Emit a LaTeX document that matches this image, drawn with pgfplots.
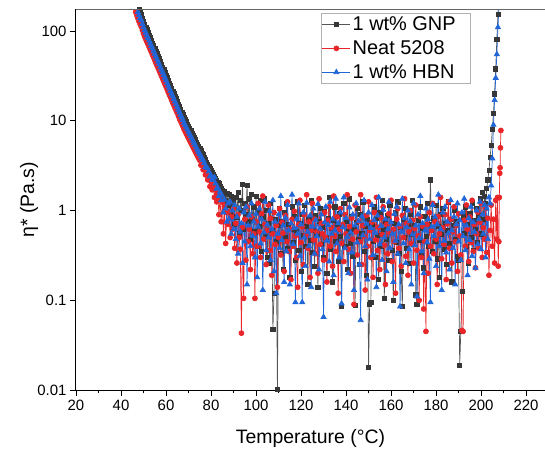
\documentclass[border=0pt]{standalone}
\usepackage{pgfplots}
\pgfplotsset{compat=1.18}
\usepackage{fontspec}
\setmainfont{Liberation Sans}
\definecolor{cblk}{RGB}{55,55,55}
\definecolor{cred}{RGB}{232,38,42}
\definecolor{cblu}{RGB}{33,102,216}
\begin{document}
\begin{tikzpicture}
\useasboundingbox (-76bp,-63bp) rectangle (469bp,390bp);
\begin{axis}[name=ax, at={(0,0)}, anchor=south west,
  scale only axis, width=469bp, height=380.7bp,
  ymode=log, xmin=20, xmax=228.4, ymin=0.01, ymax=174.7,
  axis x line*=bottom, axis y line*=left,
  axis line style={black, line width=1bp},
  xtick={20,40,...,220}, minor xtick={30,50,...,210},
  ytick={0.01,0.1,1,10,100}, yticklabels={0.01,0.1,1,10,100},
  yminorticks=false,
  tick align=outside, major tick length=6bp, minor tick length=3.5bp,
  tick style={black, line width=0.9bp},
  /pgf/number format/assume math mode=true,
  tick label style={font=\fontsize{15}{18}\selectfont},
  xticklabel style={yshift=-1bp},
  every axis x label/.style={at={(rel axis cs:0.5,0)}, anchor=base, yshift=-53bp, font=\fontsize{19.5}{23}\selectfont},
  every axis y label/.style={at={(rel axis cs:0,0.5)}, xshift=-47bp, rotate=90, anchor=center, font=\fontsize{19.5}{23}\selectfont},
  xlabel={Temperature (°C)}, ylabel={η* (Pa.s)},
  legend image code/.code={\draw[mark repeat=2,mark phase=2,#1] plot coordinates {(0bp,0bp) (14bp,0bp) (28bp,0bp)};},
  legend style={at={(rel axis cs:0.522,0.99)}, anchor=north west, draw=gray!60, fill=none,
    font=\fontsize{20}{24}\selectfont, inner xsep=1bp, inner ysep=1.5bp, row sep=4.5bp,
    /tikz/every even column/.append style={column sep=3bp},
    cells={anchor=west}},
  legend cell align=left,
]
\addplot[color=cblk!85!white, line width=0.7bp, mark=square*, mark size=2.1bp, mark options={fill=cblk, draw=cblk}] coordinates {
(46,240)(46.5,221)(47,202)(47.5,187)(48,174)(48.5,161)(49,152)(49.5,138)(50,127)(50.5,117)
(51,110)(51.5,103)(52,96.4)(52.5,89.9)(53,84.1)(53.5,78.5)(54,73.4)(54.5,68.5)(55,64.1)(55.5,59.8)
(56,55.9)(56.5,52.2)(57,48.9)(57.5,45.5)(58,42.6)(58.5,39.8)(59,37.1)(59.5,34.7)(60,32.4)(60.5,30.2)
(61,28.2)(61.5,26.3)(62,24.6)(62.5,23.0)(63,21.5)(63.5,20.1)(64,18.9)(64.5,17.6)(65,16.4)(65.5,15.3)
(66,14.3)(66.5,13.3)(67,12.5)(67.5,11.7)(68,10.9)(68.5,10.3)(69,9.72)(69.5,9.17)(70,8.66)(70.5,8.17)
(71,7.72)(71.5,7.28)(72,6.88)(72.5,6.50)(73,6.13)(73.5,5.78)(74,5.46)(74.5,5.18)(75,4.91)(75.5,4.65)
(76,4.37)(76.5,4.20)(77,3.90)(77.5,3.70)(78,3.47)(78.5,3.30)(79,3.13)(79.5,2.95)(80,2.82)(80.5,2.65)
(81,2.54)(81.5,2.40)(82,2.30)(82.5,2.15)(83,2.07)(83.5,1.98)(84,1.86)(84.5,1.78)(85,1.68)(85.5,1.45)
(86,1.62)(86.5,1.30)(87,1.55)(87.5,1.15)(88,1.50)(88.5,0.95)(89,1.45)(89.5,1.10)
(90,1.25)(90.5,0.70)(91,1.40)(91.5,0.85)(92,1.60)(92.5,0.55)(93,1.30)(93.5,1.00)(94,1.95)(94.5,0.62)
(95,1.20)(95.5,0.90)(96,1.90)(96.5,0.75)(97,1.35)(97.5,0.48)(98,1.50)(98.5,0.80)(99,1.10)(99.5,0.58)
(100,1.45)(100.5,0.40)(101,0.95)(101.5,0.66)(102,1.30)(102.5,0.35)(103,0.85)(103.5,1.35)(104,0.52)(104.5,1.00)
(105,0.30)(105.5,0.72)(106,0.26)(106.5,1.20)(107,0.60)(107.5,0.047)(108,0.12)(108.5,0.80)(109,0.45)(109.5,0.0102)
(110,0.68)(110.5,1.05)(111,0.33)(111.5,0.75)(112,0.22)(112.5,0.95)(113,0.50)(113.5,1.20)(114,0.38)(114.5,0.70)
(115,0.18)(115.5,0.62)(116,1.10)(116.5,0.44)(117,0.85)(117.5,0.28)(118,0.58)(118.5,1.25)(119,0.36)(119.5,0.72)
(120,0.21)(120.5,0.90)(121,0.53)(121.5,1.15)(122,0.40)(122.5,0.66)(123,0.15)(123.5,0.80)(124,0.47)(124.5,1.30)
(125,0.34)(125.5,0.60)(126,0.24)(126.5,0.88)(127,0.55)(127.5,0.14)(128,0.75)(128.5,1.05)(129,0.42)(129.5,0.65)
(130,0.30)(130.5,0.98)(131,0.50)(131.5,0.20)(132,0.82)(132.5,1.40)(133,0.37)(133.5,0.63)(134,0.16)(134.5,0.78)
(135,1.10)(135.5,0.45)(136,0.70)(136.5,0.27)(137,0.92)(137.5,0.52)(138,0.085)(138.5,0.68)(139,1.20)(139.5,0.40)
(140,0.76)(140.5,0.22)(141,0.58)(141.5,1.35)(142,0.43)(142.5,0.85)(143,0.31)(143.5,0.62)(144,0.088)(144.5,0.74)
(145,1.05)(145.5,0.48)(146,0.25)(146.5,0.90)(147,0.56)(147.5,1.25)(148,0.35)(148.5,0.66)(149,0.19)(149.5,0.80)
(150,0.018)(150.5,0.09)(151,0.095)(151.5,0.70)(152,0.45)(152.5,1.10)(153,0.30)(153.5,0.82)(154,0.53)(154.5,0.17)
(155,0.96)(155.5,0.40)(156,1.30)(156.5,0.62)(157,0.105)(157.5,0.75)(158,0.48)(158.5,0.88)(159,0.28)(159.5,1.15)
(160,0.57)(160.5,0.36)(161,0.10)(161.5,0.72)(162,0.94)(162.5,0.44)(163,1.25)(163.5,0.33)(164,0.65)(164.5,0.21)
(165,0.085)(165.5,0.80)(166,0.50)(166.5,1.05)(167,0.38)(167.5,0.70)(168,0.26)(168.5,0.92)(169,0.55)(169.5,1.30)
(170,0.42)(170.5,0.68)(171,0.115)(171.5,0.09)(172,0.78)(172.5,0.47)(173,1.10)(173.5,0.32)(174,0.64)(174.5,0.23)
(175,0.86)(175.5,0.52)(176,1.20)(176.5,0.40)(177,0.70)(177.5,2.20)(178,0.60)(178.5,0.35)(179,0.82)(179.5,0.46)
(180,1.15)(180.5,0.29)(181,0.66)(181.5,0.18)(182,0.90)(182.5,0.54)(183,1.05)(183.5,0.37)(184,0.72)(184.5,0.25)
(185,0.60)(185.5,1.25)(186,0.43)(186.5,0.80)(187,0.16)(187.5,0.68)(188,1.00)(188.5,0.48)(189,0.75)(189.5,0.31)
(190,0.28)(190.5,0.019)(191,0.045)(191.5,0.125)(192,0.85)(192.5,0.56)(193,1.10)(193.5,0.40)(194,0.70)(194.5,0.26)
(195,0.92)(195.5,0.50)(196,1.20)(196.5,0.36)(197,0.78)(197.5,0.62)(198,1.05)(198.5,0.44)(199,0.88)(199.5,1.35)
(200,0.55)(200.5,1.60)(201,0.80)(201.5,1.45)(202,1.20)(202.5,1.75)(203,2.20)(203.5,2.80)(204,3.90)(204.5,5.30)
(205,8.0)(205.5,12)(206,20)(206.5,38)(207,80)(207.5,155)(208,260)
};
\addlegendentry{1 wt\% GNP\hspace*{12bp}}
\addplot[color=cred, line width=0.7bp, mark=*, mark size=2.5bp, mark options={fill=cred, draw=cred}] coordinates {
(46,178)(46.5,163)(47,150)(47.5,139)(48,128)(48.5,119)(49,112)(49.5,102)(50,93.5)(50.5,86.7)
(51,81.2)(51.5,76.0)(52,71.2)(52.5,66.5)(53,62.1)(53.5,58.1)(54,54.2)(54.5,50.7)(55,47.3)(55.5,44.2)
(56,41.3)(56.5,38.6)(57,36.1)(57.5,33.7)(58,31.5)(58.5,29.4)(59,27.5)(59.5,25.7)(60,24.0)(60.5,22.4)
(61,20.8)(61.5,19.5)(62,18.2)(62.5,17.0)(63,15.9)(63.5,14.9)(64,13.9)(64.5,13.0)(65,12.2)(65.5,11.3)
(66,10.5)(66.5,9.86)(67,9.27)(67.5,8.67)(68,8.06)(68.5,7.61)(69,7.18)(69.5,6.77)(70,6.40)(70.5,6.04)
(71,5.70)(71.5,5.38)(72,5.08)(72.5,4.80)(73,4.53)(73.5,4.28)(74,4.04)(74.5,3.83)(75,3.63)(75.5,3.20)
(76,3.23)(76.5,2.85)(77,2.88)(77.5,2.50)(78,2.57)(78.5,2.20)(79,2.31)(79.5,1.85)(80,2.08)(80.5,1.70)
(81,1.88)(81.5,1.40)(82,1.70)(82.5,1.25)(83,1.53)(83.5,0.90)(84,1.38)(84.5,0.75)(85,1.24)(85.5,0.55)
(86,1.12)(86.5,0.43)(87,0.95)(87.5,0.70)(88,0.98)(88.5,0.50)(89,0.85)(89.5,0.62)
(90,1.05)(90.5,0.38)(91,0.72)(91.5,0.26)(92,0.90)(92.5,0.50)(93,0.37)(93.5,0.043)(94,0.65)(94.5,0.105)
(95,0.80)(95.5,0.28)(96,1.10)(96.5,0.45)(97,0.62)(97.5,0.22)(98,0.85)(98.5,0.33)(99,0.55)(99.5,0.105)
(100,0.75)(100.5,0.40)(101,1.20)(101.5,0.58)(102,0.30)(102.5,0.92)(103,1.45)(103.5,0.48)(104,0.70)(104.5,0.25)
(105,0.60)(105.5,1.15)(106,0.36)(106.5,0.82)(107,0.19)(107.5,0.55)(108,0.95)(108.5,0.42)(109,0.68)(109.5,0.14)
(110,0.50)(110.5,1.05)(111,0.32)(111.5,0.74)(112,0.56)(112.5,0.21)(113,0.88)(113.5,0.45)(114,1.25)(114.5,0.35)
(115,0.62)(115.5,0.17)(116,0.80)(116.5,0.40)(117,0.98)(117.5,0.52)(118,0.30)(118.5,0.14)(119,0.70)(119.5,1.30)
(120,0.44)(120.5,0.66)(121,0.25)(121.5,0.90)(122,0.53)(122.5,1.50)(123,0.38)(123.5,0.75)(124,0.18)(124.5,0.60)
(125,1.20)(125.5,0.47)(126,0.80)(126.5,0.33)(127,0.58)(127.5,0.20)(128,1.35)(128.5,0.42)(129,0.72)(129.5,0.55)
(130,0.28)(130.5,0.95)(131,0.50)(131.5,0.16)(132,0.78)(132.5,1.10)(133,0.40)(133.5,0.64)(134,0.24)(134.5,1.45)
(135,0.52)(135.5,0.35)(136,0.85)(136.5,0.12)(137,0.62)(137.5,1.05)(138,0.43)(138.5,0.70)(139,0.27)(139.5,0.90)
(140,0.55)(140.5,1.50)(141,0.37)(141.5,0.66)(142,0.20)(142.5,0.82)(143,0.48)(143.5,0.09)(144,1.15)(144.5,0.58)
(145,0.32)(145.5,0.76)(146,0.45)(146.5,1.50)(147,0.25)(147.5,0.68)(148,0.52)(148.5,0.13)(149,0.88)(149.5,0.40)
(150,1.25)(150.5,0.60)(151,0.30)(151.5,0.74)(152,0.18)(152.5,0.95)(153,0.47)(153.5,1.40)(154,0.36)(154.5,0.65)
(155,0.22)(155.5,0.83)(156,0.54)(156.5,1.10)(157,0.41)(157.5,0.15)(158,0.70)(158.5,0.33)(159,0.92)(159.5,0.56)
(160,1.30)(160.5,0.27)(161,0.62)(161.5,0.45)(162,0.12)(162.5,0.80)(163,1.05)(163.5,0.38)(164,0.66)(164.5,0.24)
(165,0.88)(165.5,0.50)(166,1.35)(166.5,0.31)(167,0.72)(167.5,0.19)(168,0.58)(168.5,1.00)(169,0.43)(169.5,0.78)
(170,0.26)(170.5,0.63)(171,1.15)(171.5,0.36)(172,0.52)(172.5,0.10)(173,0.85)(173.5,0.30)(174,0.67)(174.5,0.08)
(175,0.45)(175.5,0.045)(176,0.70)(176.5,0.20)(177,0.95)(177.5,0.40)(178,0.60)(178.5,1.20)(179,0.33)(179.5,0.75)
(180,0.48)(180.5,0.15)(181,0.86)(181.5,0.55)(182,1.40)(182.5,0.29)(183,0.64)(183.5,0.42)(184,0.90)(184.5,0.17)
(185,0.71)(185.5,1.25)(186,0.38)(186.5,0.80)(187,0.26)(187.5,0.58)(188,1.10)(188.5,0.45)(189,0.68)(189.5,0.21)
(190,0.92)(190.5,0.52)(191,0.32)(191.5,0.046)(192,0.045)(192.5,0.78)(193,0.40)(193.5,1.15)(194,0.62)(194.5,0.27)
(195,0.85)(195.5,0.44)(196,1.30)(196.5,0.35)(197,0.70)(197.5,0.23)(198,0.55)(198.5,0.96)(199,0.38)(199.5,0.74)
(200,1.20)(200.5,0.30)(201,0.64)(201.5,0.48)(202,1.05)(202.5,0.34)(203,0.82)(203.5,0.19)(204,0.60)(204.5,1.15)
(205,0.40)(205.5,0.80)(206,0.26)(206.5,1.30)(207,0.48)(207.3,1.4)(207.6,0.24)(207.9,0.45)(208.1,1.4)(208.3,2.6)
(208.45,3.0)(208.6,5.0)(208.8,7.8)
};
\addlegendentry{Neat 5208}
\addplot[color=cblu, line width=0.7bp, mark=triangle*, mark size=3bp, mark options={fill=cblu, draw=cblu}] coordinates {
(46,209)(46.5,192)(47,176)(47.5,163)(48,151)(48.5,140)(49,132)(49.5,120)(50,110)(50.5,102)
(51,95.5)(51.5,89.4)(52,83.8)(52.5,78.2)(53,73.1)(53.5,68.3)(54,63.8)(54.5,59.6)(55,55.7)(55.5,52.0)
(56,48.6)(56.5,45.4)(57,42.5)(57.5,39.6)(58,37.0)(58.5,34.6)(59,32.3)(59.5,30.2)(60,28.2)(60.5,26.3)
(61,24.5)(61.5,22.9)(62,21.4)(62.5,20.0)(63,18.7)(63.5,17.5)(64,16.4)(64.5,15.3)(65,14.3)(65.5,13.3)
(66,12.4)(66.5,11.6)(67,10.9)(67.5,10.2)(68,9.48)(68.5,8.95)(69,8.45)(69.5,7.97)(70,7.53)(70.5,7.10)
(71,6.71)(71.5,6.33)(72,5.98)(72.5,5.65)(73,5.33)(73.5,5.03)(74,4.75)(74.5,4.50)(75,4.27)(75.5,4.00)
(76,3.80)(76.5,3.65)(77,3.39)(77.5,3.05)(78,3.02)(78.5,2.95)(79,2.72)(79.5,2.40)(80,2.45)(80.5,2.20)
(81,2.21)(81.5,2.35)(82,2.00)(82.5,1.75)(83,1.80)(83.5,1.45)(84,1.62)(84.5,1.30)(85,1.46)(85.5,0.95)
(86,1.32)(86.5,1.05)(87,0.75)(87.5,1.20)(88,0.80)(88.5,1.25)(89,0.55)(89.5,1.00)
(90,0.62)(90.5,1.15)(91,0.48)(91.5,0.85)(92,0.33)(92.5,1.05)(93,0.58)(93.5,0.72)(94,0.26)(94.5,0.95)
(95,0.45)(95.5,1.10)(96,0.15)(96.5,0.68)(97,0.88)(97.5,0.40)(98,1.20)(98.5,0.52)(99,0.75)(99.5,0.30)
(100,0.92)(100.5,0.18)(101,0.66)(101.5,1.05)(102,0.43)(102.5,0.80)(103,0.13)(103.5,0.57)(104,1.25)(104.5,0.36)
(105,0.70)(105.5,0.50)(106,0.98)(106.5,0.28)(107,0.62)(107.5,1.30)(108,0.21)(108.5,0.75)(109,0.12)(109.5,0.55)
(110,0.90)(110.5,0.38)(111,1.45)(111.5,0.47)(112,0.68)(112.5,0.16)(113,0.83)(113.5,0.35)(114,1.15)(114.5,0.60)
(115,0.15)(115.5,0.72)(116,1.50)(116.5,0.42)(117,0.64)(117.5,0.095)(118,0.80)(118.5,0.55)(119,1.20)(119.5,0.31)
(120,0.70)(120.5,0.095)(121,0.95)(121.5,0.50)(122,0.24)(122.5,1.22)(123,0.58)(123.5,0.40)(124,0.88)(124.5,0.14)
(125,0.66)(125.5,1.05)(126,0.33)(126.5,0.78)(127,0.52)(127.5,1.18)(128,0.22)(128.5,0.63)(129,0.90)(129.5,0.37)
(130,0.065)(130.5,0.74)(131,1.10)(131.5,0.46)(132,0.69)(132.5,0.27)(133,1.25)(133.5,0.55)(134,0.80)(134.5,0.19)
(135,0.60)(135.5,1.35)(136,0.43)(136.5,0.72)(137,0.30)(137.5,0.95)(138,0.092)(138.5,0.65)(139,1.40)(139.5,0.38)
(140,0.82)(140.5,0.51)(141,0.20)(141.5,1.08)(142,0.57)(142.5,0.34)(143,0.90)(143.5,0.13)(144,0.68)(144.5,1.20)
(145,0.44)(145.5,0.76)(146,0.25)(146.5,0.060)(147,0.86)(147.5,0.53)(148,1.30)(148.5,0.40)(149,0.71)(149.5,0.17)
(150,0.95)(150.5,0.48)(151,0.64)(151.5,1.15)(152,0.32)(152.5,0.78)(153,0.56)(153.5,0.14)(154,0.88)(154.5,1.40)
(155,0.42)(155.5,0.67)(156,0.28)(156.5,1.02)(157,0.50)(157.5,0.80)(158,0.21)(158.5,0.62)(159,1.25)(159.5,0.38)
(160,0.74)(160.5,0.55)(161,0.16)(161.5,0.92)(162,0.46)(162.5,1.10)(163,0.33)(163.5,0.70)(164,0.085)(164.5,0.58)
(165,1.35)(165.5,0.43)(166,0.82)(166.5,0.26)(167,0.65)(167.5,1.00)(168,0.37)(168.5,0.76)(169,0.15)(169.5,0.54)
(170,1.20)(170.5,0.41)(171,0.68)(171.5,0.11)(172,0.90)(172.5,0.49)(173,1.45)(173.5,0.35)(174,0.72)(174.5,0.20)
(175,0.60)(175.5,1.05)(176,0.44)(176.5,0.80)(177,0.29)(177.5,0.095)(178,0.66)(178.5,1.15)(179,0.52)(179.5,0.85)
(180,0.24)(180.5,0.70)(181,1.50)(181.5,0.40)(182,0.62)(182.5,0.13)(183,0.95)(183.5,0.46)(184,1.10)(184.5,0.34)
(185,0.75)(185.5,0.56)(186,0.22)(186.5,1.30)(187,0.60)(187.5,0.38)(188,0.85)(188.5,0.15)(189,0.70)(189.5,1.20)
(190,0.45)(190.5,0.78)(191,0.28)(191.5,0.95)(192,0.52)(192.5,1.35)(193,0.36)(193.5,0.68)(194,0.19)(194.5,0.82)
(195,0.47)(195.5,1.10)(196,0.31)(196.5,0.74)(197,0.58)(197.5,0.23)(198,1.00)(198.5,0.42)(199,0.80)(199.5,1.25)
(200,0.37)(200.5,0.90)(201,0.55)(201.5,1.15)(202,0.30)(202.5,1.05)(203,0.48)(203.5,1.40)(204,1.20)(204.5,1.90)
(205,3.8)(205.5,9.0)(206,17)(206.5,30)(207,55)(207.5,110)(208,210)
};
\addlegendentry{1 wt\% HBN}
\end{axis}
\draw[gray!80!black, line width=1bp] (ax.north west) -- (ax.north east);
\end{tikzpicture}
\end{document}
